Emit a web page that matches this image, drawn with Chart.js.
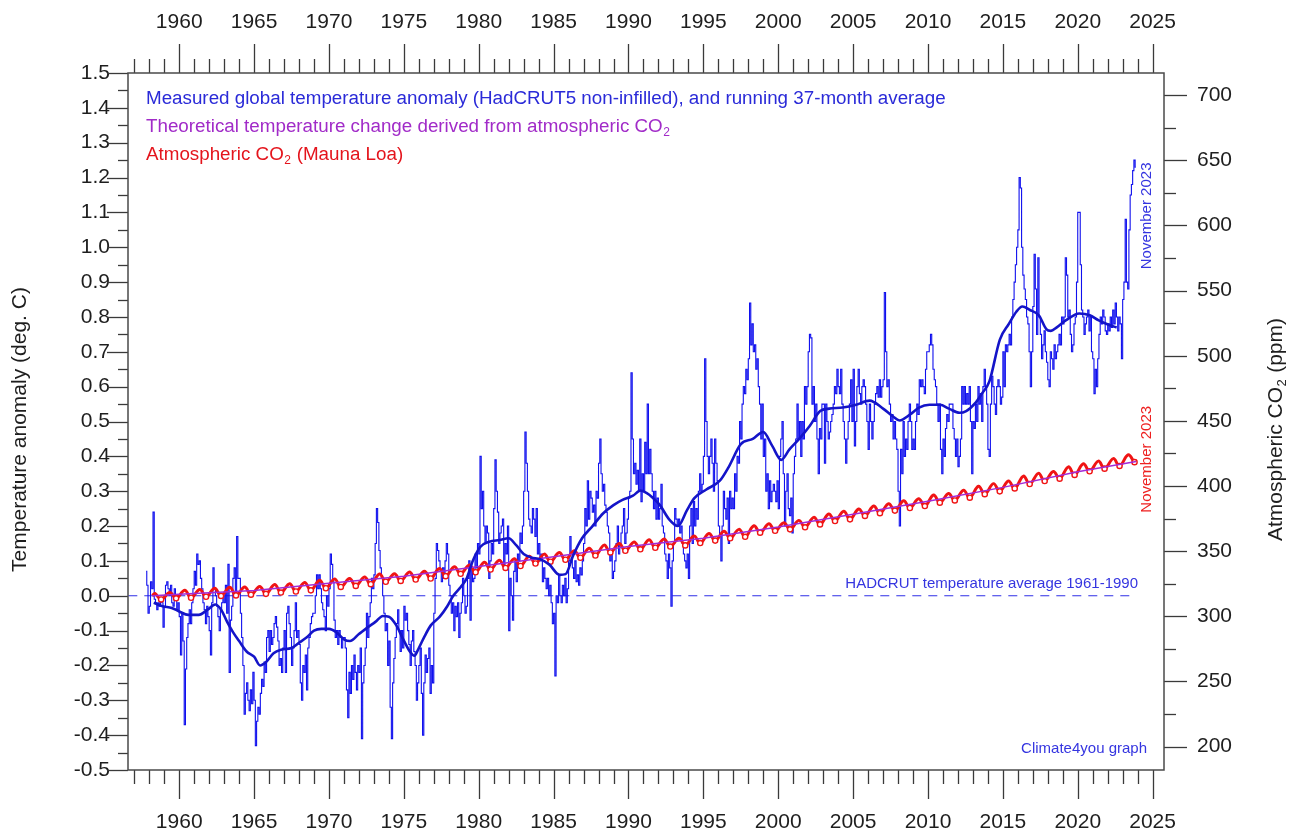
<!DOCTYPE html>
<html lang="en">
<head>
<meta charset="utf-8">
<title>Global temperature and atmospheric CO2 since 1958</title>
<script src="https://cdn.jsdelivr.net/npm/chart.js@4.4.1/dist/chart.umd.min.js"></script>
<style>
  html, body { margin: 0; padding: 0; background: #fff; }
  canvas { display: block; }
</style>
</head>
<body>
<canvas id="chart" width="1299" height="840"></canvas>
<script>
// ---- values ----
// monthly HadCRUT5 non-infilled anomaly (deg C), one row per year, first month Oct 1957
const tempFirstYear = 1957, tempFirstMonth = 10;
const temp1950s = [
  0.07, 0.03, -0.05,
  -0.03, 0.04, 0.02, 0.24, -0.01, -0.02, -0.04, -0.02, -0.03, -0.01, -0.02, -0.09,
  -0.03, 0.03, 0.04, 0.02, 0.0, 0.03, -0.02, -0.03, 0.02, 0.0, -0.04, -0.02
];
const temp1960s = [
  -0.06, -0.17, -0.05, -0.13, -0.37, -0.21, -0.12, -0.08, -0.04, -0.08, -0.02, 0.02,
  0.07, 0.03, 0.12, 0.09, 0.1, 0.05, 0.02, -0.02, -0.04, -0.08, -0.03, -0.06,
  -0.1, -0.17, -0.02, 0.08, 0.02, 0.0, -0.03, -0.06, -0.1, -0.04, -0.02, 0.0,
  -0.02, 0.03, -0.05, 0.09, -0.22, -0.07, -0.03, 0.05, 0.08, 0.0, 0.17, 0.05,
  0.05, -0.05, -0.12, -0.2, -0.34, -0.28, -0.25, -0.3, -0.33, -0.27, -0.31, -0.22,
  -0.3, -0.43, -0.36, -0.32, -0.34, -0.28, -0.24, -0.26, -0.19, -0.22, -0.12, -0.1,
  -0.16, -0.1, -0.14, -0.12, -0.08, -0.06, -0.09, -0.13, -0.2, -0.18, -0.22, -0.15,
  -0.1, -0.22, -0.05, -0.03, -0.08, -0.12, -0.2, -0.15, -0.1, -0.02, -0.12, -0.1,
  -0.14, -0.25, -0.3, -0.2, -0.22, -0.17, -0.27, -0.15, -0.12, -0.08, -0.06, -0.05,
  -0.05, 0.0, 0.06, 0.02, 0.06, 0.02, -0.02, -0.04, -0.06, -0.1, 0.0, -0.03
];
const temp1970s = [
  0.02, 0.12, 0.09, 0.04, -0.07, -0.12, -0.1, -0.14, -0.1, -0.12, -0.15, -0.12,
  -0.12, -0.15, -0.27, -0.35, -0.22, -0.28, -0.2, -0.24, -0.17, -0.22, -0.27, -0.2,
  -0.22, -0.15, -0.41, -0.25, -0.2, -0.15, -0.05, -0.12, -0.06, -0.02, 0.05, 0.02,
  0.06, 0.15, 0.25, 0.21, 0.13, 0.08, 0.05, 0.0, -0.05, -0.1, -0.08, -0.2,
  -0.13, -0.32, -0.41, -0.25, -0.18, -0.12, -0.08, -0.04, -0.1, -0.16, -0.1, -0.15,
  -0.03, -0.07, -0.05, -0.1, -0.14, -0.2, -0.13, -0.1, -0.16, -0.2, -0.3, -0.25,
  -0.2, -0.15, -0.28, -0.4, -0.25, -0.17, -0.22, -0.18, -0.15, -0.28, -0.2, -0.25,
  -0.05, 0.05, 0.15, 0.13, 0.1, 0.07, 0.04, 0.08, 0.05, 0.1, 0.15, 0.12,
  0.03, 0.0, -0.05, -0.02, -0.1, -0.03, -0.06, -0.02, -0.12, -0.05, -0.02, 0.05,
  0.0, -0.05, -0.03, 0.05, 0.1, -0.07, 0.08, 0.04, 0.05, 0.12, 0.08, 0.15
];
const temp1980s = [
  0.12, 0.4, 0.25, 0.3, 0.2, 0.15, 0.2, 0.18, 0.05, 0.1, 0.15, 0.12,
  0.25, 0.39, 0.3, 0.24, 0.15, 0.18, 0.2, 0.22, 0.08, 0.15, 0.12, 0.2,
  -0.1, 0.05, 0.0, -0.07, 0.07, 0.1, 0.04, 0.12, 0.1, 0.18, 0.15, 0.2,
  0.3, 0.47, 0.38, 0.3, 0.22, 0.2, 0.18, 0.25, 0.22, 0.17, 0.25, 0.12,
  0.15, 0.1, 0.12, 0.04, 0.08, 0.05, 0.02, 0.05, 0.0, 0.03, -0.02, -0.08,
  -0.05, -0.23, 0.0, -0.02, 0.06, 0.0, -0.02, 0.03, 0.0, 0.05, -0.02, 0.02,
  0.1, 0.17, 0.12, 0.08, 0.05, 0.1, 0.04, 0.06, 0.03, 0.08, 0.06, 0.1,
  0.15, 0.25, 0.2, 0.33, 0.22, 0.3, 0.28, 0.24, 0.26, 0.2, 0.3, 0.28,
  0.38, 0.45, 0.35, 0.3, 0.32, 0.26, 0.24, 0.2, 0.18, 0.1, 0.12, 0.05,
  0.07, 0.1, 0.15, 0.2, 0.12, 0.15, 0.18, 0.2, 0.25, 0.15, 0.18, 0.22
];
const temp1990s = [
  0.28, 0.3, 0.64, 0.45, 0.35, 0.38, 0.32, 0.36, 0.3, 0.45, 0.27, 0.35,
  0.3, 0.44, 0.35, 0.55, 0.35, 0.42, 0.35, 0.3, 0.25, 0.3, 0.22, 0.28,
  0.22, 0.25, 0.32, 0.2, 0.18, 0.12, 0.1, 0.05, 0.12, 0.08, -0.03, 0.1,
  0.15, 0.25, 0.22, 0.2, 0.22, 0.18, 0.2, 0.15, 0.12, 0.1, 0.08, 0.12,
  0.05, 0.2, 0.25, 0.15, 0.27, 0.2, 0.25, 0.22, 0.3, 0.35, 0.3, 0.32,
  0.4, 0.68, 0.5, 0.4, 0.35, 0.4, 0.45, 0.38, 0.3, 0.45, 0.38, 0.33,
  0.2, 0.17, 0.1, 0.2, 0.3, 0.25, 0.22, 0.28, 0.15, 0.3, 0.25, 0.28,
  0.25, 0.35, 0.3, 0.4, 0.38, 0.5, 0.45, 0.55, 0.6, 0.58, 0.65, 0.62,
  0.68, 0.84, 0.72, 0.78, 0.7, 0.72, 0.65, 0.68, 0.6, 0.55, 0.45, 0.55,
  0.4, 0.45, 0.3, 0.35, 0.25, 0.33, 0.27, 0.3, 0.32, 0.3, 0.27, 0.33
];
const temp2000s = [
  0.25, 0.4, 0.45, 0.5, 0.35, 0.2, 0.3, 0.35, 0.25, 0.23, 0.28, 0.18,
  0.35, 0.4, 0.45, 0.55, 0.45, 0.5, 0.4, 0.5, 0.45, 0.6, 0.55, 0.6,
  0.7, 0.75, 0.74, 0.55, 0.6, 0.5, 0.55, 0.45, 0.35, 0.48, 0.45, 0.55,
  0.55, 0.38, 0.55, 0.5, 0.45, 0.47, 0.5, 0.52, 0.55, 0.6, 0.58, 0.65,
  0.6, 0.58, 0.65, 0.55, 0.5, 0.45, 0.38, 0.45, 0.5, 0.55, 0.62, 0.5,
  0.65, 0.43, 0.5, 0.6, 0.65, 0.58, 0.55, 0.6, 0.62, 0.6, 0.55, 0.5,
  0.42, 0.55, 0.5, 0.45, 0.5, 0.55, 0.58, 0.6, 0.57, 0.62, 0.57, 0.6,
  0.62, 0.87, 0.7, 0.6, 0.62, 0.55, 0.5, 0.52, 0.45, 0.5, 0.45, 0.42,
  0.3, 0.2, 0.42, 0.35, 0.5, 0.4, 0.45, 0.42, 0.5, 0.55, 0.5, 0.42,
  0.45, 0.42, 0.5, 0.55, 0.52, 0.62, 0.6, 0.62, 0.6, 0.58, 0.65, 0.7
];
const temp2010s = [
  0.7, 0.72, 0.75, 0.72, 0.65, 0.62, 0.6, 0.55, 0.5, 0.55, 0.42, 0.35,
  0.45, 0.4, 0.48, 0.52, 0.5, 0.55, 0.55, 0.55, 0.48, 0.45, 0.4, 0.45,
  0.37, 0.4, 0.45, 0.6, 0.55, 0.6, 0.55, 0.58, 0.55, 0.6, 0.5, 0.35,
  0.5, 0.48, 0.55, 0.5, 0.6, 0.55, 0.58, 0.5, 0.6, 0.65, 0.6, 0.55,
  0.42, 0.4, 0.55, 0.63, 0.6, 0.55, 0.52, 0.6, 0.62, 0.6, 0.55, 0.57,
  0.7, 0.6, 0.72, 0.7, 0.72, 0.75, 0.72, 0.8, 0.85, 0.9, 0.95, 1.0,
  1.05, 1.2, 1.17, 1.0, 0.92, 0.88, 0.85, 0.8, 0.78, 0.7, 0.6, 0.7,
  0.83, 0.98, 0.88, 0.75, 0.97, 0.8, 0.75, 0.68, 0.72, 0.76, 0.7, 0.67,
  0.62, 0.6, 0.7, 0.68, 0.65, 0.72, 0.68, 0.7, 0.72, 0.75, 0.72, 0.8,
  0.78, 0.8, 0.97, 0.92, 0.8, 0.82, 0.75, 0.7, 0.72, 0.78, 0.8, 0.9
];
const temp2020s = [
  1.1, 1.1, 0.95, 0.82, 0.8, 0.75, 0.78, 0.8, 0.82, 0.76, 0.8, 0.7,
  0.68, 0.58, 0.65, 0.6, 0.68, 0.75, 0.8, 0.78, 0.82, 0.8, 0.76, 0.75,
  0.78, 0.76, 0.8, 0.77, 0.82, 0.78, 0.84, 0.8, 0.76, 0.8, 0.78, 0.68,
  0.85, 0.9, 1.08, 0.9, 0.88, 1.05, 1.15, 1.18, 1.22, 1.25, 1.23
];

// running 37-month average (thick blue)
const avgYears = [
  1958.3, 1958.9, 1959.5, 1960.0, 1960.6, 1961.3, 1961.9, 1962.4, 1962.8, 1963.2, 1963.6, 1964.0,
  1964.5, 1965.0, 1965.4, 1965.8, 1966.3, 1966.8, 1967.5, 1968.0, 1968.5, 1969.0, 1969.5, 1970.0,
  1970.5, 1971.0, 1971.4, 1972.0, 1972.6, 1973.1, 1973.6, 1974.0, 1974.5, 1974.9, 1975.4, 1975.7,
  1976.0, 1976.4, 1976.8, 1977.4, 1977.9, 1978.3, 1978.8, 1979.2, 1979.6, 1980.1, 1980.7, 1981.4,
  1982.0, 1982.5, 1983.0, 1983.5, 1984.1, 1984.7, 1985.4, 1985.8, 1986.3, 1986.9, 1987.6, 1988.3,
  1989.0, 1989.6, 1990.3, 1990.8, 1991.2, 1991.6, 1992.1, 1992.7, 1993.3, 1993.9, 1994.4, 1995.2,
  1996.1, 1996.7, 1997.5, 1998.3, 1999.0, 1999.6, 2000.2, 2000.75, 2001.4, 2002.1, 2002.8, 2003.4,
  2004.3, 2005.2, 2006.1, 2007.0, 2007.65, 2008.1, 2008.8, 2009.4, 2010.1, 2010.8, 2011.4, 2012.1,
  2012.55, 2013.2, 2013.6, 2014.1, 2014.8, 2015.4, 2015.9, 2016.3, 2016.8, 2017.4, 2017.9, 2018.2,
  2018.6, 2019.2, 2020.1, 2020.8, 2021.4, 2022.1, 2022.6
];
const avgValues = [
  -0.02, -0.03, -0.035, -0.045, -0.055, -0.055, -0.04, -0.025, -0.04, -0.075, -0.105, -0.13,
  -0.16, -0.175, -0.2, -0.19, -0.165, -0.155, -0.15, -0.135, -0.12, -0.1, -0.095, -0.095,
  -0.105, -0.125, -0.13, -0.11, -0.09, -0.075, -0.058, -0.06, -0.085, -0.12, -0.16, -0.172,
  -0.15, -0.115, -0.085, -0.06, -0.03, 0.0, 0.025, 0.05, 0.1, 0.14, 0.155, 0.16,
  0.165, 0.145, 0.12, 0.11, 0.105, 0.09, 0.06, 0.062, 0.115, 0.165, 0.2, 0.236,
  0.26, 0.275, 0.287, 0.302, 0.295, 0.282, 0.26, 0.22, 0.2, 0.245, 0.28, 0.305,
  0.33, 0.37, 0.435, 0.45, 0.47, 0.43, 0.39, 0.42, 0.45, 0.487, 0.53, 0.537,
  0.54, 0.548, 0.56, 0.537, 0.515, 0.503, 0.52, 0.54, 0.548, 0.548, 0.537, 0.525,
  0.53, 0.555, 0.58, 0.615, 0.735, 0.78, 0.815, 0.83, 0.82, 0.805, 0.765, 0.76,
  0.77, 0.79, 0.81, 0.805, 0.79, 0.777, 0.77
];

// Mauna Loa CO2 (ppm): May maximum and October minimum of each year from 1958
const co2FirstYear = 1958;
const co2May = [
  317.5, 318.3, 320.0, 320.6, 321.6, 322.3, 322.4, 322.9, 324.4, 325.0, 325.9, 327.6,
  328.6, 328.9, 330.1, 332.5, 332.7, 333.9, 334.6, 336.6, 338.0, 339.3, 341.5, 343.0,
  344.2, 346.1, 347.7, 348.9, 350.3, 352.2, 354.6, 355.9, 357.0, 358.8, 359.4, 359.8,
  361.6, 363.6, 365.3, 366.7, 369.5, 371.0, 371.8, 373.6, 375.9, 378.5, 380.6, 382.4,
  384.6, 386.4, 388.6, 390.2, 393.1, 394.2, 396.8, 399.8, 401.8, 403.9, 407.6, 409.7,
  411.2, 414.7, 417.1, 419.1, 421.0, 424.0
];
const co2Oct = [
  312.9, 313.8, 314.2, 315.0, 315.6, 316.0, 316.6, 317.2, 318.2, 319.0, 319.9, 321.5,
  322.5, 323.3, 324.6, 326.5, 327.1, 328.2, 329.0, 330.8, 332.6, 333.8, 335.9, 337.1,
  338.6, 340.5, 341.9, 343.4, 344.9, 346.6, 349.0, 350.3, 351.4, 352.6, 353.5, 354.4,
  356.2, 358.1, 359.9, 361.0, 364.2, 365.6, 366.7, 368.3, 370.5, 373.1, 374.4, 377.0,
  379.1, 381.1, 383.1, 384.6, 387.2, 388.9, 391.0, 393.7, 395.9, 398.1, 401.5, 403.8,
  405.6, 408.5, 411.3, 413.3, 415.4, 418.3
];
const co2Mar1958 = 315.7, co2Nov2023 = 420.5;

// theoretical temperature change derived from CO2 (deg C)
const theoryYears = [1958.2, 1960, 1965, 1970, 1975, 1980, 1985, 1990, 1995, 2000, 2005, 2010, 2015, 2020, 2023.9];
const theoryValues = [0.0, 0.004, 0.015, 0.036, 0.056, 0.084, 0.112, 0.141, 0.165, 0.197, 0.234, 0.271, 0.311, 0.356, 0.385];

// 1961-1990 reference level
const baselineYears = [1956.6, 2023.9];
const baselineValue = 0;

const yearRange = [1956.58, 2025.76];
const tempRange = [-0.5, 1.5];
const co2Range = [182, 717];

const legendLines = [
  ['Measured global temperature anomaly (HadCRUT5 non-infilled), and running 37-month average', '', ''],
  ['Theoretical temperature change derived from atmospheric CO', '2', ''],
  ['Atmospheric CO', '2', ' (Mauna Loa)']
];
const legendColors = ['#2a2ad8', '#a12bc8', '#e4141c'];
const FONT = '"Liberation Sans", Arial, Helvetica, sans-serif';
const INK = '#1e1e1e';
const BLUE = '#1010ee', BLUE_AVG = '#1414c8', RED = '#f01414', PURPLE = '#a32ad6';

// ---- build the point lists ----
const tempMonthly = [].concat(temp1950s, temp1960s, temp1970s, temp1980s, temp1990s, temp2000s, temp2010s, temp2020s);
const tempPoints = tempMonthly.map((v, i) => {
  const m = tempFirstMonth - 1 + i;
  return { x: tempFirstYear + (m + 0.5) / 12, y: v };
});
const avgPoints = avgYears.map((x, i) => ({ x, y: avgValues[i] }));
const co2Points = [{ x: co2FirstYear + 2.5 / 12, y: co2Mar1958 }];
co2May.forEach((v, i) => {
  co2Points.push({ x: co2FirstYear + i + 4.5 / 12, y: v });
  co2Points.push({ x: co2FirstYear + i + 9.5 / 12, y: co2Oct[i], low: true });
});
co2Points.push({ x: co2FirstYear + co2May.length - 1 + 10.5 / 12, y: co2Nov2023 });
const theoryPoints = theoryYears.map((x, i) => ({ x, y: theoryValues[i] }));
const baselinePoints = baselineYears.map(x => ({ x, y: baselineValue }));

function line(ctx, x1, y1, x2, y2) {
  ctx.beginPath(); ctx.moveTo(x1, y1); ctx.lineTo(x2, y2); ctx.stroke();
}
function subWidth(ctx, parts, size) {
  const base = ctx.font;
  let w = ctx.measureText(parts[0]).width + ctx.measureText(parts[2]).width;
  ctx.font = `${Math.round(size * 0.62)}px ${FONT}`;
  w += parts[1] ? ctx.measureText(parts[1]).width + 1 : 0;
  ctx.font = base;
  return w;
}
// text with an optional subscript part, left aligned at x, middle baseline at y
function subText(ctx, parts, x, y, size) {
  const [before, sub, after] = parts;
  ctx.fillText(before, x, y);
  let w = ctx.measureText(before).width;
  if (sub) {
    const base = ctx.font;
    ctx.font = `${Math.round(size * 0.62)}px ${FONT}`;
    ctx.fillText(sub, x + w + 0.5, y + size * 0.32);
    w += ctx.measureText(sub).width + 1;
    ctx.font = base;
  }
  if (after) ctx.fillText(after, x + w, y);
}

const frameAndNotes = {
  id: 'frameAndNotes',
  afterDraw(chart) {
    const { ctx, chartArea: a, scales } = chart;
    const x = scales.x, y = scales.y, y2 = scales.y2;
    ctx.save();
    ctx.strokeStyle = '#3a3a3a';
    ctx.lineWidth = 1.3;
    for (let yr = 1957; yr <= 2025; yr++) {
      const px = Math.round(x.getPixelForValue(yr)) + 0.5;
      const len = yr % 5 === 0 ? 29 : 14;
      line(ctx, px, a.bottom, px, a.bottom + len);
      line(ctx, px, a.top, px, a.top - len);
    }
    for (let i = -50; i <= 150; i += 5) {
      const py = Math.round(y.getPixelForValue(i / 100)) + 0.5;
      line(ctx, a.left - (i % 10 === 0 ? 21 : 10), py, a.left, py);
    }
    for (let v = 200; v <= 700; v += 25) {
      const py = Math.round(y2.getPixelForValue(v)) + 0.5;
      line(ctx, a.right, py, a.right + (v % 50 === 0 ? 23 : 12), py);
    }
    ctx.strokeStyle = '#4a4a4a';
    ctx.lineWidth = 1.5;
    ctx.strokeRect(a.left, a.top, a.right - a.left, a.bottom - a.top);

    // legend lines
    ctx.textBaseline = 'middle';
    ctx.textAlign = 'left';
    ctx.font = `18.8px ${FONT}`;
    legendLines.forEach((parts, i) => {
      ctx.fillStyle = legendColors[i];
      subText(ctx, parts, a.left + 18, a.top + 26 + i * 28, 18.8);
    });

    // notes
    ctx.font = `15px ${FONT}`;
    ctx.fillStyle = '#3535e0';
    ctx.textAlign = 'right';
    ctx.fillText('HADCRUT temperature average 1961-1990', a.right - 26, y.getPixelForValue(baselineValue) - 12);
    ctx.fillText('Climate4you graph', a.right - 17, a.bottom - 21);

    ctx.textAlign = 'center';
    const labelX = x.getPixelForValue(2024.6);
    ctx.save();
    ctx.translate(labelX, y.getPixelForValue(1.09));
    ctx.rotate(-Math.PI / 2);
    ctx.fillStyle = '#3535e0';
    ctx.fillText('November 2023', 0, 0);
    ctx.restore();
    ctx.save();
    ctx.translate(labelX, y2.getPixelForValue(co2Nov2023));
    ctx.rotate(-Math.PI / 2);
    ctx.fillStyle = '#ee2020';
    ctx.fillText('November 2023', 0, 0);
    ctx.restore();

    // axis titles
    ctx.fillStyle = INK;
    ctx.font = `21px ${FONT}`;
    ctx.save();
    ctx.translate(20, (a.top + a.bottom) / 2 + 8);
    ctx.rotate(-Math.PI / 2);
    ctx.fillText('Temperature anomaly (deg. C)', 0, 0);
    ctx.restore();
    ctx.save();
    ctx.translate(1276, (a.top + a.bottom) / 2 + 8);
    ctx.rotate(-Math.PI / 2);
    ctx.textAlign = 'left';
    const title = ['Atmospheric CO', '2', ' (ppm)'];
    subText(ctx, title, -subWidth(ctx, title, 21) / 2, 0, 21);
    ctx.restore();
    ctx.restore();
  }
};

const tickFont = { family: FONT, size: 21 };
function yearAxis(position, height, padding) {
  return {
    type: 'linear', position, min: yearRange[0], max: yearRange[1],
    grid: { display: false, drawTicks: false }, border: { display: false },
    ticks: {
      stepSize: 5, includeBounds: false, autoSkip: false, maxRotation: 0,
      padding, color: INK, font: tickFont, callback: v => String(Math.round(v))
    },
    afterFit: s => { s.height = height; }
  };
}

new Chart(document.getElementById('chart'), {
  type: 'line',
  data: {
    datasets: [
      { label: 'Running 37-month average', data: avgPoints, borderColor: BLUE_AVG, borderWidth: 2.6,
        pointRadius: 0, cubicInterpolationMode: 'monotone', order: 0 },
      { label: 'Theoretical temperature change', data: theoryPoints, borderColor: PURPLE, borderWidth: 1.5,
        pointRadius: 0, order: 1 },
      { label: 'Atmospheric CO2', data: co2Points, yAxisID: 'y2', borderColor: RED, borderWidth: 3,
        tension: 0.4, pointRadius: c => (c.raw && c.raw.low ? 2.6 : 0), pointBorderWidth: 1.4,
        pointBorderColor: RED, pointBackgroundColor: '#ffffff', order: 2 },
      { label: 'HadCRUT5 monthly', data: tempPoints, borderColor: BLUE, borderWidth: 1.1,
        pointRadius: 0, stepped: 'middle', order: 3 },
      { label: 'Average 1961-1990', data: baselinePoints, borderColor: '#2f2fe6', borderWidth: 1.2,
        borderDash: [9, 7], pointRadius: 0, order: 4 }
    ]
  },
  options: {
    responsive: false,
    animation: false,
    layout: { padding: 0 },
    plugins: { legend: { display: false }, tooltip: { enabled: false } },
    scales: {
      x: yearAxis('bottom', 70, 40),
      xTop: yearAxis('top', 73, 38),
      y: {
        position: 'left', min: tempRange[0], max: tempRange[1],
        grid: { display: false, drawTicks: false }, border: { display: false },
        ticks: { stepSize: 0.1, autoSkip: false, padding: 18, color: INK, font: tickFont,
          callback: v => (Math.abs(v) < 1e-9 ? 0 : v).toFixed(1) },
        afterFit: s => { s.width = 128; }
      },
      y2: {
        position: 'right', min: co2Range[0], max: co2Range[1],
        grid: { display: false, drawTicks: false }, border: { display: false },
        ticks: { stepSize: 50, includeBounds: false, autoSkip: false, padding: 33, color: INK, font: tickFont },
        afterFit: s => { s.width = 135; }
      }
    }
  },
  plugins: [frameAndNotes]
});
</script>
</body>
</html>
